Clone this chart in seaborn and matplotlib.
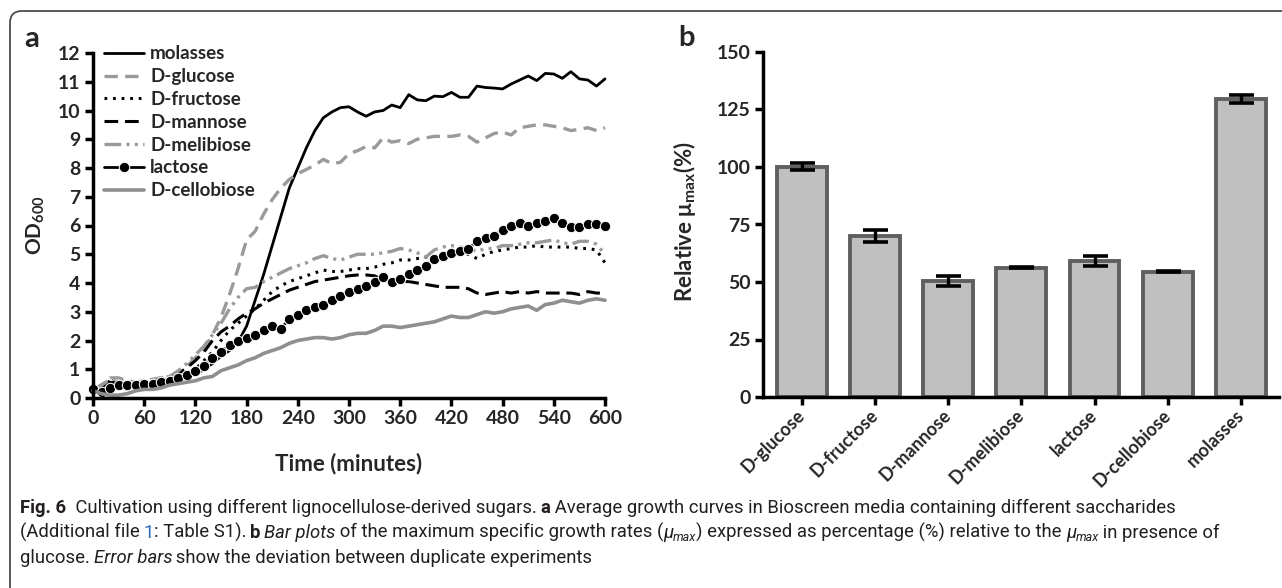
import numpy as np
import pandas as pd
import seaborn as sns
import matplotlib.pyplot as plt
from matplotlib.patches import FancyBboxPatch
from matplotlib.transforms import IdentityTransform

# growth curves (panel a), OD600 read every 10 min
time_min = np.arange(0, 610, 10)

molasses = [0.30, 0.35, 0.55, 0.50, 0.45, 0.45, 0.50, 0.55, 0.55, 0.60,
            0.65, 0.75, 0.80, 1.00, 1.20, 1.45, 1.65, 1.95, 2.50, 3.40,
            4.30, 5.30, 6.30, 7.30, 8.00, 8.70, 9.30, 9.75, 9.95, 10.10,
            10.13, 9.95, 9.80, 9.95, 10.00, 10.19, 10.10, 10.55, 10.37, 10.34,
            10.50, 10.48, 10.63, 10.46, 10.46, 10.85, 10.80, 10.78, 10.75, 10.92,
            11.06, 11.20, 11.04, 11.29, 11.27, 11.12, 11.35, 11.10, 11.06, 10.85,
            11.10]
glucose = [0.30, 0.45, 0.70, 0.70, 0.60, 0.55, 0.55, 0.65, 0.70, 0.75,
           0.85, 1.10, 1.40, 1.70, 2.20, 2.80, 3.60, 4.50, 5.50, 5.80,
           6.40, 6.90, 7.30, 7.60, 7.80, 7.95, 8.10, 8.30, 8.15, 8.20,
           8.50, 8.60, 8.75, 8.70, 9.05, 8.90, 8.95, 8.85, 9.00, 9.05,
           9.10, 9.10, 9.10, 9.15, 9.10, 8.90, 9.05, 9.20, 9.25, 9.15,
           9.40, 9.45, 9.50, 9.50, 9.45, 9.40, 9.30, 9.35, 9.40, 9.30,
           9.40]
fructose = [0.25, 0.35, 0.60, 0.55, 0.50, 0.50, 0.50, 0.55, 0.60, 0.65,
            0.75, 0.90, 1.00, 1.30, 1.60, 2.00, 2.35, 2.60, 2.85, 3.10,
            3.40, 3.70, 3.90, 4.05, 4.15, 4.25, 4.35, 4.45, 4.40, 4.40,
            4.45, 4.50, 4.50, 4.55, 4.65, 4.70, 4.80, 4.80, 4.85, 4.90,
            4.90, 4.95, 5.05, 5.00, 5.00, 4.85, 5.00, 5.10, 5.15, 5.20,
            5.25, 5.25, 5.30, 5.25, 5.25, 5.25, 5.25, 5.20, 5.20, 5.15,
            4.70]
mannose = [0.30, 0.40, 0.55, 0.50, 0.50, 0.50, 0.55, 0.60, 0.60, 0.70,
           0.85, 1.05, 1.30, 1.60, 2.00, 2.30, 2.50, 2.75, 2.95, 3.10,
           3.30, 3.45, 3.60, 3.75, 3.85, 3.95, 4.05, 4.10, 4.15, 4.20,
           4.25, 4.28, 4.28, 4.25, 4.10, 4.05, 4.05, 4.05, 4.00, 3.95,
           3.90, 3.85, 3.85, 3.85, 3.80, 3.65, 3.60, 3.65, 3.70, 3.65,
           3.70, 3.65, 3.70, 3.65, 3.65, 3.65, 3.65, 3.60, 3.70, 3.65,
           3.65]
melibiose = [0.30, 0.45, 0.65, 0.65, 0.55, 0.55, 0.60, 0.65, 0.70, 0.75,
             0.95, 1.20, 1.50, 1.80, 2.20, 2.60, 3.10, 3.50, 3.80, 3.85,
             4.05, 4.20, 4.35, 4.50, 4.60, 4.70, 4.85, 4.95, 4.85, 4.80,
             4.90, 5.00, 5.00, 5.00, 5.05, 5.10, 5.20, 5.15, 5.05, 4.90,
             5.15, 5.25, 5.30, 5.25, 5.20, 5.10, 5.20, 5.20, 5.30, 5.30,
             5.35, 5.40, 5.40, 5.45, 5.50, 5.40, 5.35, 5.45, 5.45, 5.35,
             5.00]
lactose = [0.30, 0.20, 0.35, 0.45, 0.45, 0.45, 0.50, 0.50, 0.55, 0.60,
           0.70, 0.80, 0.95, 1.10, 1.40, 1.60, 1.85, 2.00, 2.10, 2.20,
           2.35, 2.50, 2.40, 2.75, 2.90, 3.05, 3.15, 3.25, 3.40, 3.55,
           3.70, 3.80, 3.90, 4.05, 4.20, 4.05, 4.15, 4.30, 4.45, 4.60,
           4.85, 4.95, 5.05, 5.10, 5.20, 5.45, 5.55, 5.65, 5.85, 6.00,
           6.10, 6.00, 6.10, 6.15, 6.25, 6.10, 5.95, 5.95, 6.05, 6.05,
           6.00]
cellobiose = [0.25, 0.15, 0.10, 0.10, 0.15, 0.25, 0.30, 0.30, 0.35, 0.45,
              0.50, 0.55, 0.60, 0.70, 0.75, 0.95, 1.05, 1.15, 1.30, 1.40,
              1.55, 1.65, 1.75, 1.90, 2.00, 2.05, 2.10, 2.10, 2.05, 2.10,
              2.20, 2.25, 2.25, 2.35, 2.50, 2.50, 2.45, 2.50, 2.55, 2.60,
              2.65, 2.75, 2.85, 2.80, 2.80, 2.90, 3.00, 2.95, 3.00, 3.10,
              3.15, 3.20, 3.05, 3.25, 3.30, 3.40, 3.35, 3.30, 3.40, 3.45,
              3.40]

# relative mu_max (panel b)
sugars_b = ["D-glucose", "D-fructose", "D-mannose", "D-melibiose",
            "lactose", "D-cellobiose", "molasses"]
mu_rel = [100.2, 70.0, 50.5, 56.3, 59.1, 54.5, 129.5]
mu_err = [1.6, 2.4, 2.1, 0.3, 2.0, 0.3, 1.7]

W, H = 1282, 588
sns.set_theme(style="ticks")
plt.rcParams["font.family"] = ["Lato", "DejaVu Sans"]
plt.rcParams["font.weight"] = "bold"
plt.rcParams["mathtext.default"] = "regular"

fig = plt.figure(figsize=(W / 100, H / 100), dpi=100)
ax1 = fig.add_axes([93 / W, 1 - 398 / H, 512 / W, 345 / H])
ax2 = fig.add_axes([763 / W, 1 - 397 / H, (1279 - 763) / W, 345 / H])

# ---- panel a: growth curves
gray = "#9a9a9a"
curves = [
    ("molasses", molasses, dict(color="black", lw=2.0, linestyle="-")),
    ("D-glucose", glucose, dict(color=gray, lw=2.4, linestyle=(0, (4, 2.2)))),
    ("D-fructose", fructose, dict(color="black", lw=2.2, linestyle=(0, (0.9, 1.9)))),
    ("D-mannose", mannose, dict(color="black", lw=2.2, linestyle=(0, (4.5, 2.2)))),
    ("D-melibiose", melibiose, dict(color=gray, lw=2.4, linestyle=(0, (5, 1.6, 0.9, 1.6, 0.9, 1.6)))),
    ("lactose", lactose, dict(color="black", lw=2.0, linestyle="-", marker="o", markersize=7.5)),
    ("D-cellobiose", cellobiose, dict(color="#8f8f8f", lw=2.6, linestyle="-")),
]
for name, vals, kw in curves:
    sns.lineplot(x=time_min, y=vals, ax=ax1, label=name, clip_on=False, **kw)

ax1.set_xlim(0, 600)
ax1.set_ylim(0, 12)
ax1.set_xticks(range(0, 601, 60))
ax1.set_yticks(range(0, 13))
ax1.set_xlabel("")
ax1.set_ylabel("")
leg = ax1.legend(loc="upper left", bbox_to_anchor=(0.022, 1.022), frameon=False,
                 fontsize=13.5, handlelength=2.1, handletextpad=0.35,
                 labelspacing=0.31, borderpad=0, borderaxespad=0)

# ---- panel b: bars
sns.barplot(x=sugars_b, y=mu_rel, ax=ax2, color="#c0c0c0", saturation=1,
            edgecolor="#5f5f5f", linewidth=2.8, width=0.68, errorbar=None)
ax2.errorbar(range(len(sugars_b)), mu_rel, yerr=mu_err, fmt="none",
             ecolor="black", elinewidth=2.4, capsize=9, capthick=2.6, zorder=5)
ax2.set_xlim(-0.53, 6.52)
ax2.set_ylim(0, 150)
ax2.set_yticks(range(0, 151, 25))
ax2.set_xlabel("")
ax2.set_ylabel("")

for ax in (ax1, ax2):
    sns.despine(ax=ax)
    for s in ("left", "bottom"):
        ax.spines[s].set_linewidth(2.5)
        ax.spines[s].set_color("black")
    ax.tick_params(direction="out", length=6, width=2.5, color="black",
                   labelsize=14, pad=3)
    ax.set_facecolor("none")
ax2.tick_params(axis="x", pad=5, labelsize=13)
for lab in ax2.get_xticklabels():
    lab.set_rotation(45)
    lab.set_ha("right")
    lab.set_va("center")
    lab.set_rotation_mode("anchor")

# axis titles and panel letters
fig.text(349 / W, 1 - 464 / H, "Time (minutes)", ha="center", va="center", fontsize=16)
fig.text(36 / W, 1 - 225 / H, "OD$_{600}$", ha="center", va="center", rotation=90, fontsize=15)
fig.text(685 / W, 1 - 222 / H, "Relative \u03bc$_{max}$(%)", ha="center", va="center",
         rotation=90, fontsize=16)
fig.text(32 / W, 1 - 39 / H, "a", ha="center", va="center", fontsize=21)
fig.text(686 / W, 1 - 38 / H, "b", ha="center", va="center", fontsize=21)

# ---- caption
cap_font = ["Liberation Sans Narrow", "Roboto", "DejaVu Sans"]
cap_size = 13.3
ink = "#231f20"
renderer = fig.canvas.get_renderer()


def caption_line(pieces, x, y):
    for s, kw in pieces:
        kw = dict(kw)
        dy = kw.pop("dy", 0)
        size = kw.pop("size", cap_size)
        t = fig.text(x / W, 1 - (y + dy) / H, s, ha="left", va="baseline",
                     family=cap_font, fontsize=size, color=kw.pop("color", ink),
                     fontweight=kw.pop("weight", "normal"), **kw)
        x += t.get_window_extent(renderer).width


N = {}
B = {"weight": "bold"}
I = {"style": "italic"}
SUB = {"style": "italic", "size": 9, "dy": 3}
caption_line([("Fig. 6", B), ("\u2002Cultivation using different lignocellulose-derived sugars.\u2009", N),
              ("a", B), ("\u2009Average growth curves in Bioscreen media containing different saccharides", N)],
             20, 513)
caption_line([("(Additional file\u2009", N), ("1", {"color": "#2b6cb5"}), (": Table S1).\u2009", N),
              ("b", B), ("\u2009", N), ("Bar plots", I),
              ("\u2009of the maximum specific growth rates (", N), ("\u03bc", I), ("max", SUB),
              (") expressed as percentage (%) relative to the\u2009", N), ("\u03bc", I), ("max", SUB),
              ("\u2009in presence of", N)],
             20, 538)
caption_line([("glucose.\u2009", N), ("Error bars", I),
              ("\u2009show the deviation between duplicate experiments", N)],
             20, 563)

# rounded outer frame
frame = FancyBboxPatch((10, -60), 1400, H - 11 + 60, boxstyle="round,pad=0,rounding_size=12",
                       transform=IdentityTransform(), fill=False, ec="#4d4d4d", lw=1.3)
fig.add_artist(frame)

fig.savefig("out.png", dpi=100)
